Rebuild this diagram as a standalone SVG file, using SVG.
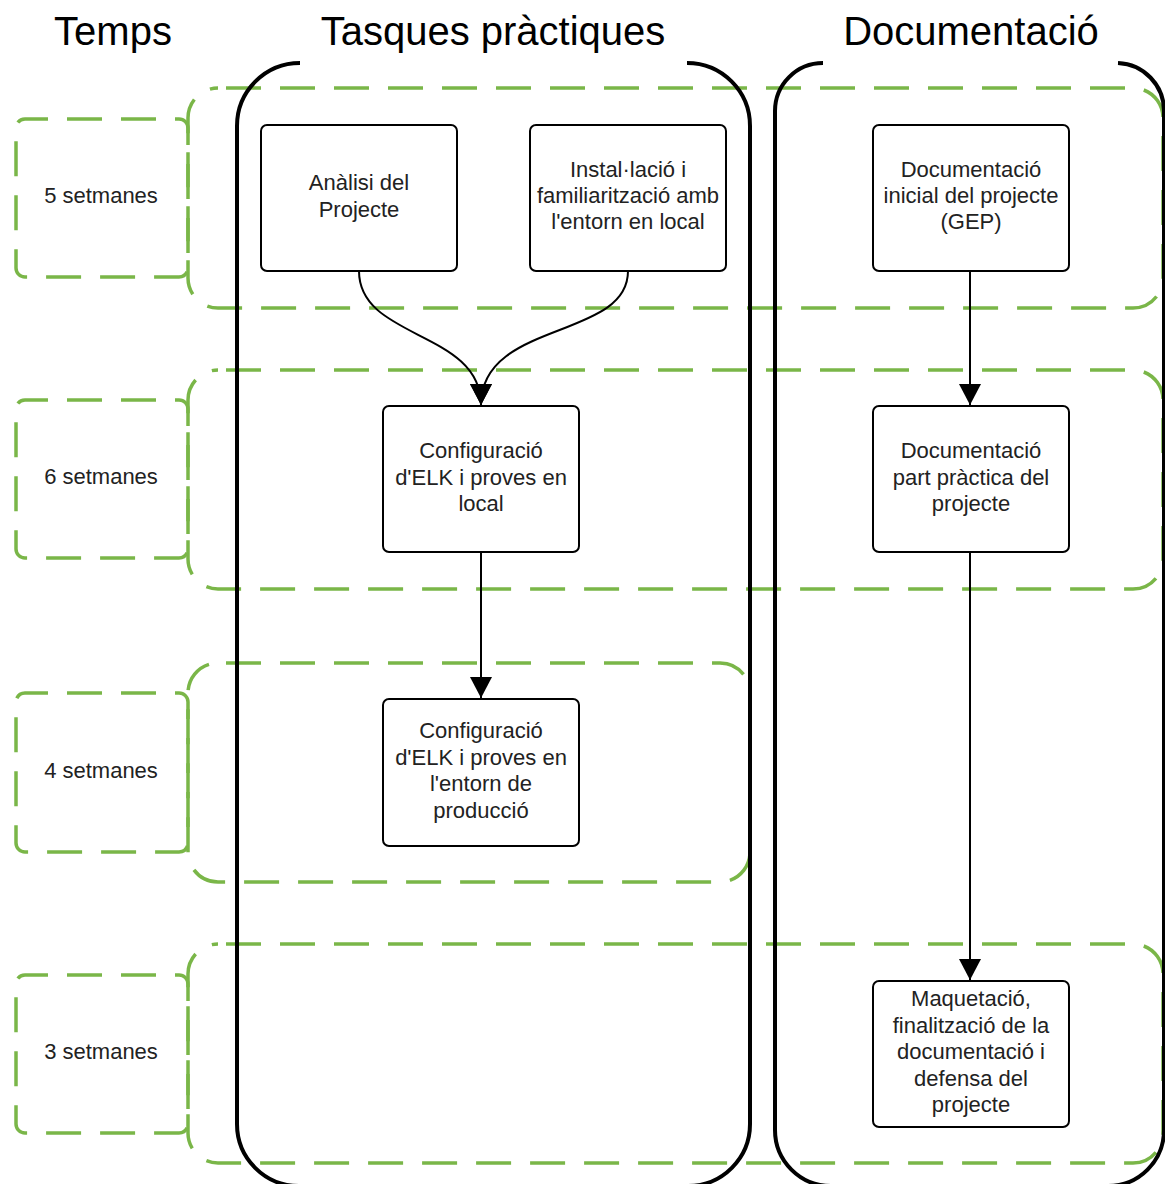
<svg xmlns="http://www.w3.org/2000/svg" width="1165" height="1184" viewBox="0 0 1165 1184">
<style>
.title{font-family:"Liberation Sans",Arial,sans-serif;font-size:40px;fill:#000;text-anchor:middle}
.t{font-family:"Liberation Sans",Arial,sans-serif;font-size:22px;fill:#222;text-anchor:middle}
.dash{fill:none;stroke:#7AB648;stroke-width:3.5;stroke-dasharray:35 19}
.col{fill:none;stroke:#000;stroke-width:4}
.node{fill:#fff;stroke:#000;stroke-width:2}
.conn{fill:none;stroke:#000;stroke-width:2}
</style>
<defs>
<marker id="ah" markerUnits="userSpaceOnUse" markerWidth="24" markerHeight="24" viewBox="0 0 24 24" refX="21" refY="12" orient="auto">
<path d="M0,1 L21,12 L0,23 Z" fill="#000"/>
</marker>
</defs>
<rect width="1165" height="1184" fill="#fff"/>
<g id="titles">
<text class="title" x="113" y="45">Temps</text>
<text class="title" x="493" y="45">Tasques pràctiques</text>
<text class="title" x="971" y="45">Documentació</text>
</g>
<g id="rows">
<rect class="dash" x="188" y="88" width="975" height="220" rx="30" stroke-dashoffset="-8"/>
<rect class="dash" x="188" y="370" width="975" height="219" rx="30" stroke-dashoffset="-8"/>
<rect class="dash" x="188" y="663" width="562" height="219" rx="30" stroke-dashoffset="-8"/>
<rect class="dash" x="188" y="944" width="975" height="219" rx="30" stroke-dashoffset="-8"/>
</g>
<g id="time-5"><rect class="dash" x="16" y="119" width="172" height="158" rx="9" stroke-dashoffset="12"/><text class="t" x="101" y="203">5 setmanes</text></g>
<g id="time-6"><rect class="dash" x="16" y="400" width="172" height="158" rx="9" stroke-dashoffset="12"/><text class="t" x="101" y="484">6 setmanes</text></g>
<g id="time-4"><rect class="dash" x="16" y="693" width="172" height="159" rx="9" stroke-dashoffset="12"/><text class="t" x="101" y="778">4 setmanes</text></g>
<g id="time-3"><rect class="dash" x="16" y="975" width="172" height="158" rx="9" stroke-dashoffset="12"/><text class="t" x="101" y="1059">3 setmanes</text></g>
<g id="columns">
<path class="col" d="M300,63 A63,63 0 0 0 237,126 V1124 A62,62 0 0 0 299,1186 H688 A62,62 0 0 0 750,1124 V126 A63,63 0 0 0 687,63"/>
<path class="col" d="M823,63 A48,48 0 0 0 775,111 V1130 A56,56 0 0 0 831,1186 H1108 A56,56 0 0 0 1164,1130 V111 A48,48 0 0 0 1118,63"/>
</g>
<g id="connectors">
<path class="conn" d="M359,271 C359,340 481,330 481,405" marker-end="url(#ah)"/>
<path class="conn" d="M628,271 C628,340 481,320 481,405" marker-end="url(#ah)"/>
<path class="conn" d="M481,552 V698" marker-end="url(#ah)"/>
<path class="conn" d="M970,271 V405" marker-end="url(#ah)"/>
<path class="conn" d="M970,552 V980" marker-end="url(#ah)"/>
</g>
<g id="n-analisi"><rect class="node" x="261" y="125" width="196" height="146" rx="6"/><text class="t" x="359" y="190">Anàlisi del</text><text class="t" x="359" y="216.5">Projecte</text></g>
<g id="n-installacio"><rect class="node" x="530" y="125" width="196" height="146" rx="6"/><text class="t" x="628" y="177">Instal·lació i</text><text class="t" x="628" y="203">familiarització amb</text><text class="t" x="628" y="229">l'entorn en local</text></g>
<g id="n-doc-inicial"><rect class="node" x="873" y="125" width="196" height="146" rx="6"/><text class="t" x="971" y="177">Documentació</text><text class="t" x="971" y="203">inicial del projecte</text><text class="t" x="971" y="229">(GEP)</text></g>
<g id="n-elk-local"><rect class="node" x="383" y="406" width="196" height="146" rx="6"/><text class="t" x="481" y="458">Configuració</text><text class="t" x="481" y="484.5">d'ELK i proves en</text><text class="t" x="481" y="511">local</text></g>
<g id="n-doc-part"><rect class="node" x="873" y="406" width="196" height="146" rx="6"/><text class="t" x="971" y="458">Documentació</text><text class="t" x="971" y="484.5">part pràctica del</text><text class="t" x="971" y="511">projecte</text></g>
<g id="n-elk-prod"><rect class="node" x="383" y="699" width="196" height="147" rx="6"/><text class="t" x="481" y="738">Configuració</text><text class="t" x="481" y="764.5">d'ELK i proves en</text><text class="t" x="481" y="791">l'entorn de</text><text class="t" x="481" y="817.5">producció</text></g>
<g id="n-maquetacio"><rect class="node" x="873" y="981" width="196" height="146" rx="6"/><text class="t" x="971" y="1006">Maquetació,</text><text class="t" x="971" y="1032.5">finalització de la</text><text class="t" x="971" y="1059">documentació i</text><text class="t" x="971" y="1085.5">defensa del</text><text class="t" x="971" y="1112">projecte</text></g>
</svg>
